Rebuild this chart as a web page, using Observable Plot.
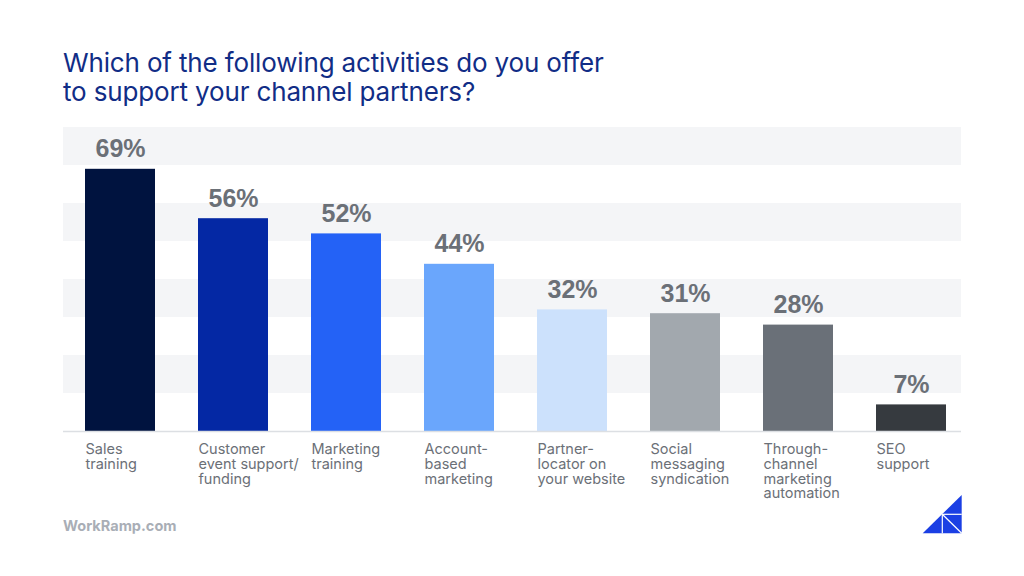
<!DOCTYPE html>
<html>
<head>
<meta charset="utf-8">
<script src="https://cdn.jsdelivr.net/npm/d3@7"></script>
<script src="https://cdn.jsdelivr.net/npm/@observablehq/plot@0.6"></script>
<style>
  html, body { margin: 0; padding: 0; background: #ffffff; }
  #wrap { position: relative; width: 1024px; height: 576px; overflow: hidden; background: #ffffff; font-family: Inter, "Noto Sans", sans-serif; }
  #title { position: absolute; left: 63px; top: 48px; margin: 0; font-size: 26px; line-height: 29px; font-weight: 400; color: #112d86; letter-spacing: -0.15px; }
  #chart { position: absolute; left: 0; top: 120px; }
  #source { position: absolute; left: 63px; top: 517px; font-size: 14.5px; font-weight: 700; color: #a9aeb6; font-family: Inter, sans-serif; }
  #logo { position: absolute; left: 922px; top: 494px; }
</style>
</head>
<body>
<div id="wrap">
  <h1 id="title">Which of the following activities do you offer<br>to support your channel partners?</h1>
  <div id="chart"></div>
  <div id="source">WorkRamp.com</div>
  <svg id="logo" width="42" height="42" viewBox="0 0 42 42">
    <polygon points="0.7,39.3 39.7,1 39.7,39.3" fill="#1b3fe4"/>
    <line x1="20.3" y1="20.3" x2="39.7" y2="20.3" stroke="#ffffff" stroke-width="1.2"/>
    <line x1="20.3" y1="20.3" x2="20.3" y2="39.3" stroke="#ffffff" stroke-width="1.2"/>
    <line x1="20.3" y1="20.3" x2="39.7" y2="39.3" stroke="#ffffff" stroke-width="1.2"/>
  </svg>
</div>
<script>
const categories = [
  "Sales\ntraining",
  "Customer\nevent support/\nfunding",
  "Marketing\ntraining",
  "Account-\nbased\nmarketing",
  "Partner-\nlocator on\nyour website",
  "Social\nmessaging\nsyndication",
  "Through-\nchannel\nmarketing\nautomation",
  "SEO\nsupport"
];
const values = [69, 56, 52, 44, 32, 31, 28, 7];
const barColors = ["#00133f", "#0428a4", "#2462f6", "#6aa6fc", "#cce1fc", "#a2a8ae", "#6a7078", "#363a3f"];
const bandStarts = [10, 30, 50, 70];
const bandSize = 10;

const data = categories.map((c, i) => ({category: c, value: values[i]}));
const bands = bandStarts.map(s => ({y1: s, y2: s + bandSize}));

const chart = Plot.plot({
  width: 1024,
  height: 390,
  marginLeft: 63,
  marginRight: 63,
  marginTop: 7,
  marginBottom: 79,
  style: {background: "transparent", fontFamily: "Inter, sans-serif"},
  x: {domain: categories, range: [84.5, 947], paddingInner: 0.382, paddingOuter: 0, axis: null},
  y: {domain: [0, 80], axis: null},
  color: {domain: categories, range: barColors},
  marks: [
    Plot.rectY(bands, {y1: "y1", y2: "y2", fill: "#f4f5f7"}),
    Plot.barY(data, {x: "category", y: "value", fill: "category"}),
    Plot.ruleY([0], {stroke: "#dcdfe3", strokeWidth: 1.5}),
    Plot.text(data, {
      x: "category", y: "value", text: d => d.value + "%",
      lineAnchor: "bottom", dy: -12,
      fill: "#6b7077", fontSize: 25, fontWeight: 700,
      fontFamily: "'Liberation Sans', Arial, sans-serif"
    }),
    Plot.text(data, {
      x: "category", y: () => 0, text: "category",
      lineAnchor: "top", textAnchor: "start", dx: -35, dy: 12,
      fill: "#6b7077", fontSize: 14.5, lineHeight: 1.02,
      fontFamily: "Inter, sans-serif"
    })
  ]
});
document.getElementById("chart").appendChild(chart);
</script>
</body>
</html>
